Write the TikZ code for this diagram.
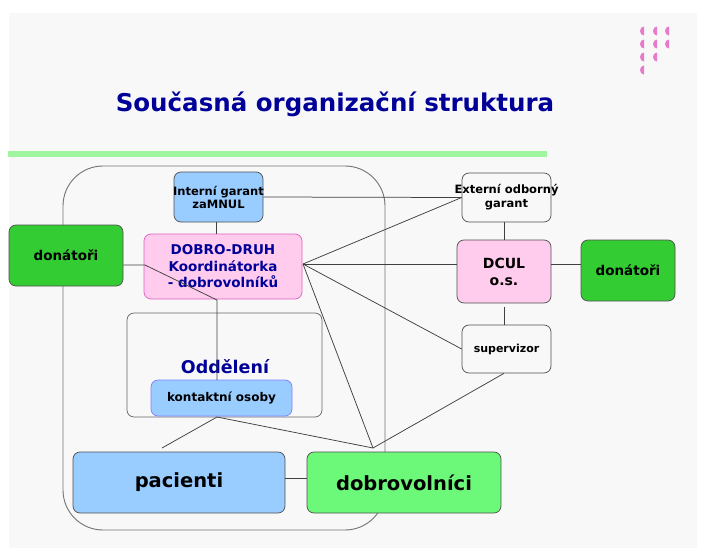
\documentclass[tikz,border=0pt]{standalone}
\usepackage{fontspec}
\setmainfont{DejaVu Sans}
\definecolor{bg}{HTML}{F8F8F8}
\definecolor{tblue}{HTML}{000099}
\definecolor{lblue}{HTML}{99CCFF}
\definecolor{lpink}{HTML}{FFCCEE}
\definecolor{pinkedge}{HTML}{E060C0}
\definecolor{dgreen}{HTML}{33CC33}
\definecolor{lgreen}{HTML}{6CF97A}
\definecolor{barg}{HTML}{A0F5A0}
\definecolor{icon}{HTML}{E87ACB}
\definecolor{kedge}{HTML}{8080FF}
\definecolor{lgray}{HTML}{505050}
\begin{document}
\begin{tikzpicture}[x=1pt,y=-1pt,
  box/.style={rectangle,rounded corners=7pt,draw=lgray,line width=0.7pt,align=center,font=\bfseries,inner sep=1pt},
  conn/.style={draw=black!75,line width=0.75pt}]
\useasboundingbox (0,0) rectangle (705,557);
\fill[white] (0,0) rectangle (705,557);
\fill[bg] (9,13) rectangle (697,548);
% icon
\foreach \x/\y in {642/31,655/31,667/31,642/44,655/44,667/44,642/57,655/57,642/70}{
  \fill[icon] (\x+2,\y-4.5) arc[start angle=90,end angle=270,x radius=4,y radius=-4.5] -- cycle;
}
% title
\node[font=\bfseries\fontsize{24.5}{28}\selectfont,text=tblue] (title) at (335,104) {Současná organizační struktura};
% green bar
\fill[barg] (8,151) rectangle (547,157);
% container
\draw[draw=gray!90!black,line width=0.9pt,rounded corners=40pt] (63,166) rectangle (385,530);
% odd box
\node[box,draw=gray!80!black,minimum width=195pt,minimum height=104pt] (odd) at (224.5,365) {};
\node[font=\bfseries\fontsize{17.5}{20}\selectfont,text=tblue] (oddt) at (225,367) {Oddělení};
% nodes
\node[box,fill=lblue,inner xsep=-8pt,minimum width=89pt,minimum height=50pt,font=\bfseries\fontsize{11.5}{13}\selectfont] (intg) at (218.5,197) {Interní garant\\zaMNUL};
\node[box,fill=lpink,draw=pinkedge,minimum width=158pt,minimum height=65pt,text=tblue,font=\bfseries\fontsize{13.5}{16.5}\selectfont] (dobro) at (223,266.5) {DOBRO-DRUH\\Koordinátorka\\- dobrovolníků};
\node[box,fill=bg,inner xsep=-10pt,minimum width=89pt,minimum height=49pt,font=\bfseries\fontsize{11.5}{14}\selectfont] (ext) at (506.5,197.5) {Externí odborný\\garant};
\node[box,fill=lpink,minimum width=94pt,minimum height=63pt,font=\bfseries\fontsize{14}{17}\selectfont] (dcul) at (504,271.5) {DCUL\\o.s.};
\node[box,fill=dgreen,minimum width=94pt,minimum height=61pt,font=\bfseries\fontsize{13.5}{16}\selectfont] (donR) at (628,270.5) {donátoři};
\node[box,fill=bg,minimum width=89pt,minimum height=48pt,font=\bfseries\fontsize{11}{14}\selectfont] (sup) at (506.5,349) {supervizor};
\node[box,fill=dgreen,minimum width=114pt,minimum height=61pt,font=\bfseries\fontsize{13.5}{16}\selectfont] (donL) at (66,255.5) {donátoři};
\node[box,fill=lblue,draw=kedge,minimum width=141pt,minimum height=36pt,font=\bfseries\fontsize{12}{14}\selectfont] (kont) at (221.5,398) {kontaktní osoby};
\node[box,fill=lblue,minimum width=212pt,minimum height=61pt,font=\bfseries\fontsize{19.5}{23}\selectfont] (pac) at (179,482.5) {pacienti};
\node[box,fill=lgreen,minimum width=194pt,minimum height=61pt,font=\bfseries\fontsize{19.5}{23}\selectfont] (dobv) at (404,482.5) {dobrovolníci};
% coordinates
\coordinate (P) at (303,264);
\coordinate (C) at (373,448);
\coordinate (K) at (217,417);
\coordinate (Kn) at (217,380);
\coordinate (D1) at (145,265);
\coordinate (D2) at (217,300);
\coordinate (S1) at (504,307);
\coordinate (pacT) at (162,448);
% connectors
\draw[conn] (216,222) -- (216,234);
\draw[conn] (intg.east) -- (ext.west);
\draw[conn] (P) -- (ext.west);
\draw[conn] (P) -- (dcul.west |- P);
\draw[conn] (P) -- (sup.west);
\draw[conn] (P) -- (C);
\draw[conn] (ext.south -| 504,0) -- (dcul.north -| 504,0);
\draw[conn] (dcul.east |- 0,264) -- (donR.west |- 0,264);
\draw[conn] (S1) -- (sup.north -| S1);
\draw[conn] (sup.south -| S1) -- (C);
\draw[conn] (donL.east |- D1) -- (D1) -- (D2) -- (Kn);
\draw[conn] (K) -- (pacT);
\draw[conn] (K) -- (C);
\draw[conn] (pac.east |- 0,478) -- (dobv.west |- 0,478);
\end{tikzpicture}
\end{document}
